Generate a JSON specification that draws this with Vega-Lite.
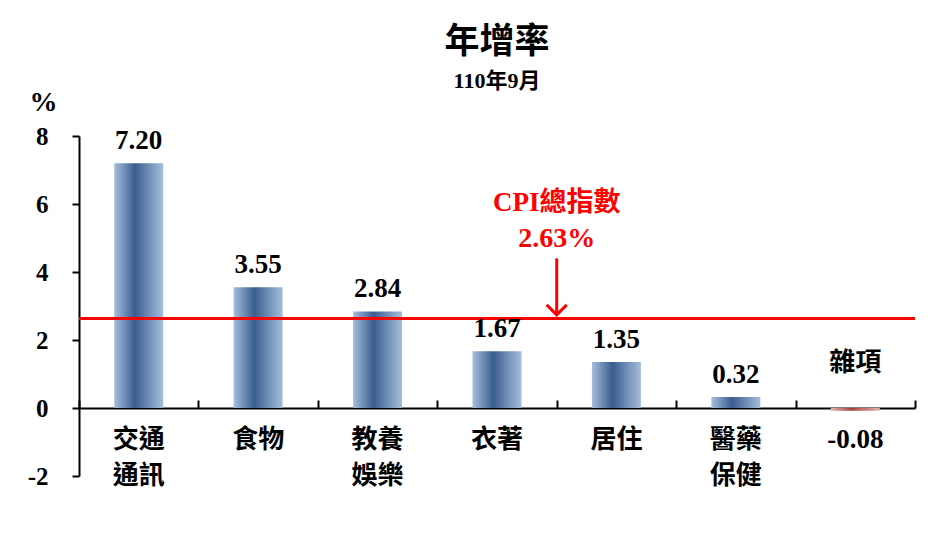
{
  "$schema": "https://vega.github.io/schema/vega-lite/v6.json",
  "autosize": "none",
  "padding": {"left": 79, "top": 136, "right": 24, "bottom": 67},
  "width": 836,
  "height": 340,
  "background": "white",
  "config": {
    "view": {"stroke": null},
    "font": "Liberation Serif",
    "text": {"font": "Liberation Serif, Noto Sans CJK TC", "fontWeight": "bold", "color": "black"}
  },
  "title": {
    "text": "年增率",
    "subtitle": "110年9月",
    "frame": "group",
    "anchor": "middle",
    "offset": -4,
    "font": "Liberation Serif, Noto Sans CJK TC",
    "fontSize": 35,
    "fontWeight": "bold",
    "color": "black",
    "subtitleFont": "Liberation Serif, Noto Sans CJK TC",
    "subtitleFontSize": 22,
    "subtitleFontWeight": "bold",
    "subtitleColor": "black",
    "subtitlePadding": 11
  },
  "data": {
    "values": [
      {"cat": "交通通訊", "label": "交通\n通訊", "value": 7.20, "valtext": "7.20"},
      {"cat": "食物", "label": "食物", "value": 3.55, "valtext": "3.55"},
      {"cat": "教養娛樂", "label": "教養\n娛樂", "value": 2.84, "valtext": "2.84"},
      {"cat": "衣著", "label": "衣著", "value": 1.67, "valtext": "1.67"},
      {"cat": "居住", "label": "居住", "value": 1.35, "valtext": "1.35"},
      {"cat": "醫藥保健", "label": "醫藥\n保健", "value": 0.32, "valtext": "0.32"},
      {"cat": "雜項", "label": "雜項", "value": -0.08, "valtext": "-0.08"}
    ]
  },
  "encoding": {
    "x": {
      "field": "cat", "type": "nominal", "sort": null,
      "scale": {"paddingInner": 0, "paddingOuter": 0},
      "axis": {
        "title": null, "labels": false, "offset": -68,
        "tickBand": "extent", "tickSize": -8, "tickColor": "black", "tickWidth": 2,
        "domainColor": "black", "domainWidth": 2
      }
    }
  },
  "layer": [
    {
      "transform": [{"filter": "datum.value >= 0"}],
      "mark": {
        "type": "bar", "width": {"band": 0.41},
        "color": {"gradient": "linear", "x1": 0, "x2": 1, "y1": 0, "y2": 0,
          "stops": [{"offset": 0, "color": "#a6bedc"}, {"offset": 0.42, "color": "#3a5d8f"}, {"offset": 1, "color": "#a6bedc"}]}
      },
      "encoding": {
        "y": {
          "field": "value", "type": "quantitative",
          "scale": {"domain": [-2, 8], "nice": false, "zero": false},
          "axis": {
            "values": [-2, 0, 2, 4, 6, 8], "grid": false,
            "labelExpr": "datum.value + ''",
            "title": "%", "titleAngle": 0, "titleX": -36, "titleY": -34,
            "titleAlign": "center", "titleBaseline": "middle",
            "titleFont": "Liberation Serif", "titleFontSize": 28, "titleFontWeight": "bold", "titleColor": "black",
            "labelFont": "Liberation Serif", "labelFontSize": 25, "labelFontWeight": "bold", "labelColor": "black",
            "labelPadding": 24, "tickSize": 7, "tickColor": "black", "tickWidth": 2,
            "domainColor": "black", "domainWidth": 2
          }
        }
      }
    },
    {
      "transform": [{"filter": "datum.value < 0"}],
      "mark": {
        "type": "bar", "width": {"band": 0.41},
        "color": {"gradient": "linear", "x1": 0, "x2": 1, "y1": 0, "y2": 0,
          "stops": [{"offset": 0, "color": "#e3b5b4"}, {"offset": 0.42, "color": "#a8403e"}, {"offset": 1, "color": "#e3b5b4"}]}
      },
      "encoding": {"y": {"field": "value", "type": "quantitative"}}
    },
    {
      "data": {"values": [{}]},
      "mark": {"type": "rule", "color": "#ff0000", "strokeWidth": 3},
      "encoding": {"y": {"datum": 2.63}, "x": null}
    },
    {
      "transform": [{"filter": "datum.value >= 0"}],
      "mark": {"type": "text", "baseline": "bottom", "dy": -8, "fontSize": 27},
      "encoding": {"y": {"field": "value", "type": "quantitative"}, "text": {"field": "valtext"}}
    },
    {
      "transform": [{"filter": "datum.value >= 0"}],
      "mark": {"type": "text", "baseline": "top", "dy": 19, "fontSize": 26, "lineBreak": "\n", "lineHeight": 36},
      "encoding": {"y": {"datum": 0}, "text": {"field": "label"}}
    },
    {
      "transform": [{"filter": "datum.value < 0"}],
      "mark": {"type": "text", "baseline": "bottom", "dy": -32, "fontSize": 26},
      "encoding": {"y": {"datum": 0}, "text": {"field": "label"}}
    },
    {
      "transform": [{"filter": "datum.value < 0"}],
      "mark": {"type": "text", "baseline": "top", "dy": 19, "fontSize": 27},
      "encoding": {"y": {"datum": 0}, "text": {"field": "valtext"}}
    },
    {
      "data": {"values": [{}]},
      "mark": {"type": "text", "color": "#ff0000", "fontSize": 27, "baseline": "middle"},
      "encoding": {"x": {"datum": "衣著", "bandPosition": 1}, "y": {"datum": 6.02}, "text": {"value": "CPI總指數"}}
    },
    {
      "data": {"values": [{}]},
      "mark": {"type": "text", "color": "#ff0000", "fontSize": 28, "baseline": "middle"},
      "encoding": {"x": {"datum": "衣著", "bandPosition": 1}, "y": {"datum": 4.98}, "text": {"value": "2.63%"}}
    },
    {
      "data": {"values": [{}]},
      "mark": {"type": "rule", "color": "#ff0000", "strokeWidth": 3},
      "encoding": {"x": {"datum": "衣著", "bandPosition": 1}, "y": {"datum": 4.4}, "y2": {"datum": 2.74}}
    },
    {
      "data": {"values": [{}]},
      "mark": {"type": "point", "shape": "M-1,-1L0,0L1,-1", "filled": false, "color": "#ff0000", "strokeWidth": 3, "size": 400, "opacity": 1},
      "encoding": {"x": {"datum": "衣著", "bandPosition": 1}, "y": {"datum": 2.74}}
    }
  ]
}
